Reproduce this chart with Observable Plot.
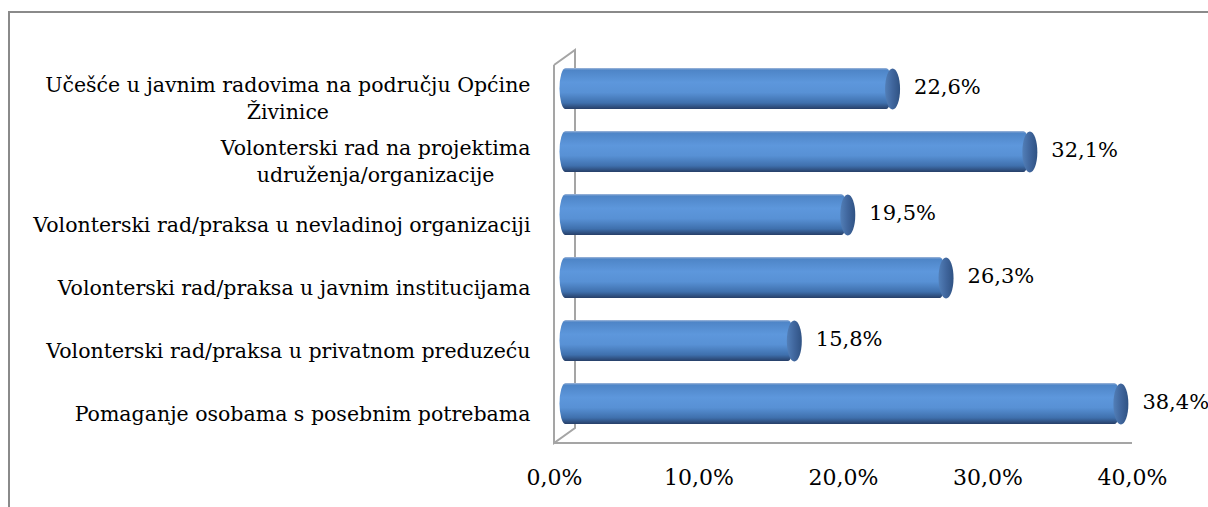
<!DOCTYPE html>
<html>
<head>
<meta charset="utf-8">
<script src="https://cdn.jsdelivr.net/npm/d3@7"></script>
<script src="https://cdn.jsdelivr.net/npm/@observablehq/plot@0.6"></script>
<style>
  html, body { margin: 0; padding: 0; background: #fff; overflow: hidden; }
  #wrap { position: relative; width: 1208px; height: 507px; }
  #frame { position: absolute; left: 8px; top: 11px; width: 1400px; height: 700px; border: 2px solid #8a8a8a; box-sizing: border-box; }
  #chart { position: absolute; left: 0; top: 0; }
</style>
</head>
<body>
<div id="wrap"><div id="frame"></div><div id="chart"></div></div>
<script>
const categories = [
  "Učešće u javnim radovima na području Općine\nŽivinice",
  "Volonterski rad na projektima\nudruženja/organizacije",
  "Volonterski rad/praksa u nevladinoj organizaciji",
  "Volonterski rad/praksa u javnim institucijama",
  "Volonterski rad/praksa u privatnom preduzeću",
  "Pomaganje osobama s posebnim potrebama"
];
const values = [22.6, 32.1, 19.5, 26.3, 15.8, 38.4];
const tickValues = [0, 10, 20, 30, 40];

const fmt = d => d.toFixed(1).replace(".", ",") + "%";
const FONT = "DejaVu Serif";
const FS = 20.5;

const data = categories.map((c, i) => ({category: c, value: values[i]}));

const depthX = 21, depthY = 15;   // 3D depth of the chart floor
const capA = 7.5, capB = 20.5;    // cylinder end ellipse radii
const ellipse = {
  draw(ctx) {
    const a = capA, b = capB, k = 0.5523;
    ctx.moveTo(a, 0);
    ctx.bezierCurveTo(a, k * b, k * a, b, 0, b);
    ctx.bezierCurveTo(-k * a, b, -a, k * b, -a, 0);
    ctx.bezierCurveTo(-a, -k * b, -k * a, -b, 0, -b);
    ctx.bezierCurveTo(k * a, -b, a, -k * b, a, 0);
    ctx.closePath();
  }
};

const MT = 57, MB = 72;
const plot = Plot.plot({
  width: 1208, height: 507,
  marginLeft: 554, marginRight: 76, marginTop: MT, marginBottom: MB,
  style: {background: "transparent", fontFamily: FONT},
  x: {domain: [0, 40], axis: null},
  y: {domain: categories, paddingInner: 0.35, paddingOuter: 0.175, axis: null},
  marks: [
    Plot.axisX({ticks: tickValues, tickSize: 0, tickPadding: 34, tickFormat: fmt, label: null,
      fontSize: 22, fontFamily: FONT, fill: "#000", anchor: "bottom"}),
    Plot.barX(data, {x1: () => 0, x2: "value", y: "category", dx: depthX / 2 + 1,
      insetLeft: -6, rx: 6, ry: capB, fill: "url(#cyl)"}),
    Plot.dot(data, {x: "value", y: "category", dx: depthX / 2 + 1, r: 10,
      symbol: ellipse, fill: "url(#cap)", stroke: "none"}),
    Plot.text(data, {x: "value", y: "category", text: d => fmt(d.value), dx: depthX / 2 + capA + 15,
      dy: -2, textAnchor: "start", fontSize: 21, fontFamily: FONT, fill: "#000"}),
    Plot.text(data, {x: () => 0, y: "category", text: "category", textAnchor: "end",
      dx: -24, dy: 8, lineHeight: 1.3, fontSize: FS, fontFamily: FONT, fill: "#000"})
  ]
});

// gradients
const NS = "http://www.w3.org/2000/svg";
const defs = document.createElementNS(NS, "defs");
function grad(id, x2, y2, stops) {
  const g = document.createElementNS(NS, "linearGradient");
  g.setAttribute("id", id);
  g.setAttribute("x1", 0); g.setAttribute("y1", 0);
  g.setAttribute("x2", x2); g.setAttribute("y2", y2);
  for (const [o, c] of stops) {
    const s = document.createElementNS(NS, "stop");
    s.setAttribute("offset", o); s.setAttribute("stop-color", c);
    g.appendChild(s);
  }
  defs.appendChild(g);
}
grad("cyl", 0, 1, [[0, "#a3b9da"], [0.05, "#4e85c7"], [0.35, "#5d97dc"], [0.6, "#5891d5"], [0.85, "#3f70ad"], [1, "#273f68"]]);
grad("cap", 1, 0, [[0, "#527fb8"], [0.5, "#40669d"], [1, "#2f5283"]]);
plot.insertBefore(defs, plot.firstChild);

// 3D wall and floor lines, positioned from the scales
const xs = plot.scale("x");
const x0 = xs.apply(0), x40 = xs.apply(40);
const wallTop = MT + 8, floorY = 507 - MB + 8;
const wg = document.createElementNS(NS, "g");
wg.setAttribute("stroke", "#a5a5a5");
wg.setAttribute("stroke-width", 2);
wg.setAttribute("fill", "none");
const wp = document.createElementNS(NS, "path");
wp.setAttribute("d",
  `M${x0},${wallTop}V${floorY}L${x0 + depthX},${floorY - depthY}V${wallTop - depthY}L${x0},${wallTop}` +
  `M${x0},${floorY}H${x40}`);
wg.appendChild(wp);
plot.insertBefore(wg, defs.nextSibling);

document.getElementById("chart").appendChild(plot);

// center the lines of multi-line category labels within their right-aligned block
plot.querySelectorAll("text").forEach(t => {
  const spans = t.querySelectorAll("tspan");
  if (spans.length < 2) return;
  const w = Math.max(...Array.from(spans, s => s.getComputedTextLength()));
  t.setAttribute("text-anchor", "middle");
  spans.forEach(s => s.setAttribute("x", -w / 2));
});
</script>
</body>
</html>
